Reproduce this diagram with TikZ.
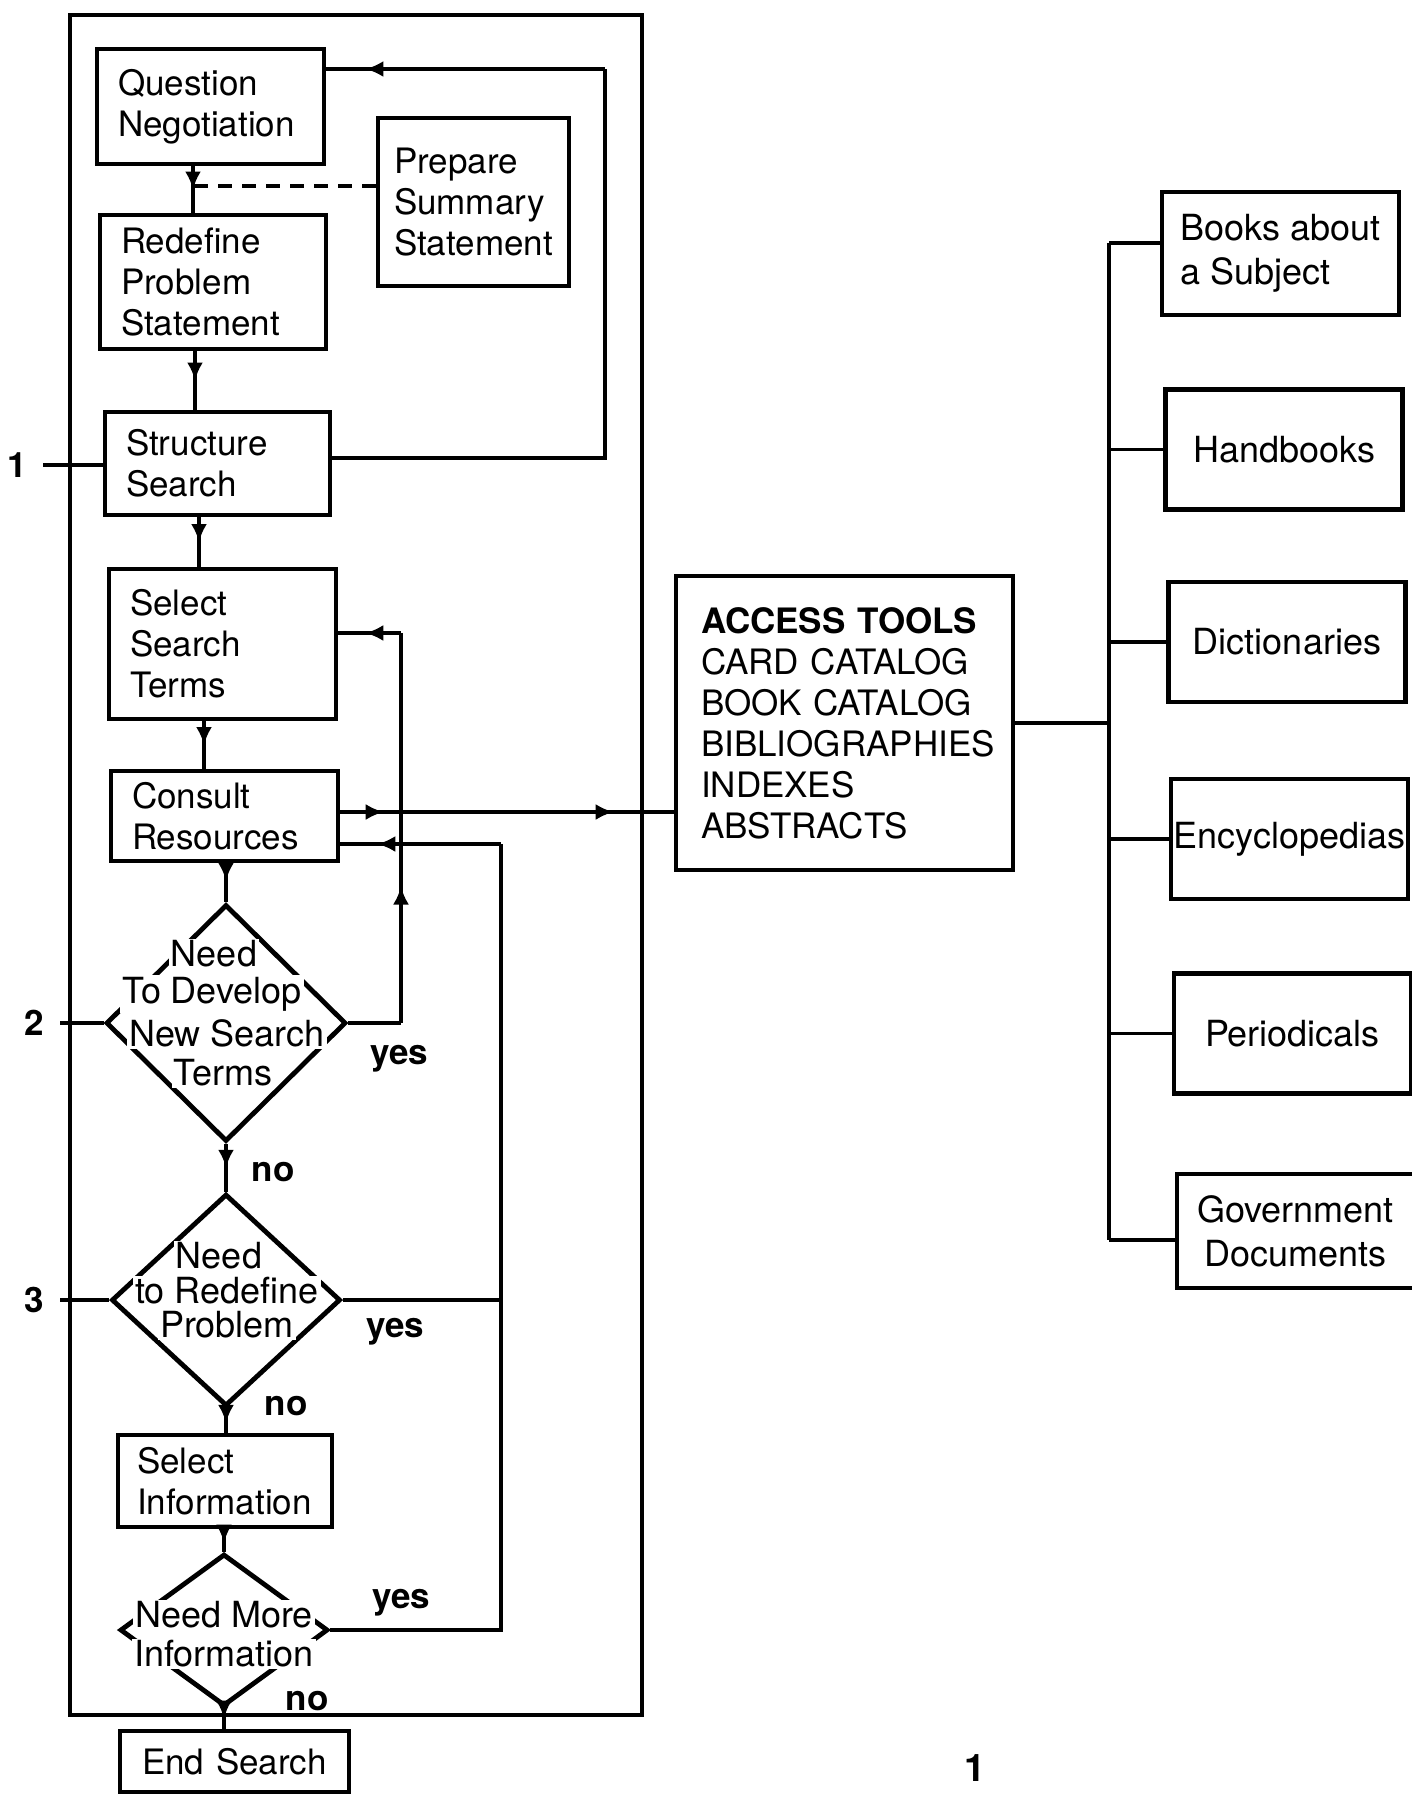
\documentclass[tikz,border=0pt]{standalone}
\usepackage{fontspec}
\setmainfont{TeX Gyre Heros}
\usetikzlibrary{shapes.geometric, arrows.meta, decorations.markings, calc}
\newcommand\myfs{\fontsize{17.5}{20.5}\selectfont}
\newcommand\mydfs{\fontsize{18}{20.5}\selectfont}
\newcommand\myrfs{\fontsize{18}{22}\selectfont}
\begin{document}
\begin{tikzpicture}[x=0.5pt,y=-0.5pt,
  lbox/.style={draw, line width=2.4pt, align=left, inner xsep=10.5pt, inner ysep=0pt, font=\myfs},
  rbox/.style={draw, line width=2.4pt, align=center, inner sep=0pt, minimum width=118.5pt, minimum height=60pt, font=\myrfs},
  dec/.style={draw, diamond, line width=2.4pt, inner sep=0pt},
  dtext/.style={fill=white, inner sep=1pt, font=\mydfs},
  lab/.style={font=\bfseries\myfs, inner sep=1pt},
  conn/.style={line width=1.6pt},
  marr/.style={postaction={decorate}, decoration={markings, mark=at position #1 with {\arrow{Latex[length=9pt,width=8pt]}}}},
  marrtwo/.style 2 args={postaction={decorate}, decoration={markings, mark=at position #1 with {\arrow{Latex[length=9pt,width=8pt]}}, mark=at position #2 with {\arrow{Latex[length=9pt,width=8pt]}}}}
]
\useasboundingbox (0,0) rectangle (1412,1795);
\clip (0,0) rectangle (1412,1795);
\fill[white] (0,0) rectangle (1412,1795);

% outer frame
\node[draw, line width=2.2pt, minimum width=286pt, minimum height=850pt, inner sep=0pt] (frame) at (356,865) {};

% left column boxes
\node[lbox, text width=92.5pt, minimum height=57.5pt] (qn) at (210.5,106.5) {Question\\Negotiation};
\node[lbox, text width=79.5pt, inner xsep=8pt, minimum height=84pt] (ps) at (473.5,202) {Prepare\\Summary\\Statement};
\node[lbox, text width=92pt, minimum height=67pt] (rp) at (213,282) {Redefine\\Problem\\Statement};
\node[lbox, text width=91.5pt, minimum height=51.5pt] (ss) at (217.5,463.5) {Structure\\Search};
\node[lbox, text width=92.5pt, minimum height=75pt] (sst) at (222.5,644) {Select\\Search\\Terms};
\node[lbox, text width=92.5pt, minimum height=45pt] (cr) at (224.5,816) {Consult\\Resources};
\node[dec, minimum width=120pt, minimum height=118.5pt] (d1) at (226,1023) {};
\node[dec, minimum width=114.5pt, minimum height=106pt] (d2) at (226,1300) {};
\node[lbox, text width=88pt, inner xsep=9.5pt, minimum height=46pt] (si) at (225,1481) {Select\\Information};
\node[dec, minimum width=104pt, minimum height=76pt] (d3) at (224,1630) {};
\node[lbox, align=center, text width=93.5pt, minimum height=30.5pt] (es) at (234.5,1761.5) {End Search};

% decision texts
\node[dtext] (d1a) at (214,954) {Need};
\node[dtext] (d1b) at (212,994) {To Develop};
\node[dtext] (d1c) at (227,1033) {New Search};
\node[dtext] (d1d) at (223,1073) {Terms};
\node[dtext] (d2a) at (219,1256) {Need};
\node[dtext] (d2b) at (227,1291) {to Redefine};
\node[dtext] (d2c) at (227,1325) {Problem};
\node[dtext] (d3a) at (224,1615) {Need More};
\node[dtext] (d3b) at (224,1654) {Information};

% labels
\node[lab] (yes1) at (399,1059) {yes};
\node[lab] (yes2) at (395,1332) {yes};
\node[lab] (yes3) at (401,1603) {yes};
\node[lab] (no1) at (273,1172) {no};
\node[lab] (no2) at (286,1406) {no};
\node[lab] (no3) at (307,1701) {no};
\node[lab, inner xsep=8pt] (n1) at (17,465) {1};
\node[lab, inner xsep=8pt] (n2) at (34,1023) {2};
\node[lab, inner xsep=8pt] (n3) at (34,1300) {3};

% access tools
\node[draw, line width=2.4pt, align=left, text width=143.5pt, inner xsep=12.5pt, minimum height=147pt, font=\myfs] (acc) at (844.5,723)
  {\textbf{ACCESS TOOLS}\\CARD CATALOG\\BOOK CATALOG\\BIBLIOGRAPHIES\\INDEXES\\ABSTRACTS};

% right boxes
\node[rbox, align=left, minimum height=61.5pt] (books) at (1280.5,253.5) {Books about\\a Subject};
\node[rbox] (hand) at (1284,449.5) {Handbooks};
\node[rbox] (dict) at (1287,642) {Dictionaries};
\node[rbox] (ency) at (1289.5,839) {Encyclopedias};
\node[rbox] (peri) at (1292.5,1033.5) {Periodicals};
\node[rbox, minimum height=57pt] (gov) at (1295.5,1231) {Government\\Documents};

% page number
\node[anchor=south, inner sep=0pt, font=\bfseries\fontsize{19}{19}\selectfont] (pg) at (975,1782) {1};

% routing coordinates
\coordinate (yd) at (193,186);
\coordinate (xb) at (195,0);
\coordinate (xc) at (199,0);
\coordinate (xe) at (204,0);
\coordinate (ys) at (605,458);
\coordinate (yt) at (605,69);
\coordinate (ya) at (401,633);
\coordinate (yb) at (501,844);
\coordinate (yc) at (0,812);
\coordinate (bt) at (1109,243);
\coordinate (bb) at (1109,1240);

% main flow
\draw[conn, marr=0.5] (qn.south -| yd) -- (rp.north -| yd);
\draw[conn, dash pattern=on 7pt off 5pt] (ps.west |- yd) -- (yd);
\draw[conn, marr=0.5] (rp.south -| xb) -- (ss.north -| xb);
\draw[conn, marr=0.5] (ss.south -| xc) -- (sst.north -| xc);
\draw[conn, marr=0.5] (sst.south -| xe) -- (cr.north -| xe);
\draw[conn, marr=0.45] (d1.north |- cr.south) -- (d1.north);
\draw[conn, marr=0.5] (d1.south) -- (d2.north);
\draw[conn, marr=0.6] (d2.south) -- (d2.south |- si.north);
\draw[conn, marr=0.6] (d3.north |- si.south) -- (d3.north);
\draw[conn, marr=0.5] (d3.south) -- (d3.south |- es.north);

% entry points
\draw[conn] (n1.east) -- (ss.west |- n1.east);
\draw[conn] (n2.east) -- (d1.west);
\draw[conn] (n3.east) -- (d2.west);

% loop from structure search to question negotiation
\draw[conn] (ss.east |- ys) -- (ys) -- (yt);
\draw[conn, marr=0.86] (yt) -- (qn.east |- yt);

% yes loop 1
\draw[conn] (d1.east) -- (d1.east -| ya);
\draw[conn, marr=0.35] (d1.east -| ya) -- (ya);
\draw[conn, marr=0.57] (ya) -- (sst.east |- ya);

% yes loops 2 and 3
\draw[conn] (d2.east) -- (d2.east -| yb);
\draw[conn] (d3.east) -- (d3.east -| yb) -- (yb);
\draw[conn, marr=0.77] (yb) -- (cr.east |- yb);

% to access tools
\draw[conn, marrtwo={0.13}{0.82}] (cr.east |- yc) -- (acc.west |- yc);

% bus to reference types
\draw[conn] (acc.east) -- (acc.east -| bt);
\draw[line width=2.4pt] (bt) -- (bb);
\draw[conn] (books.west |- bt) -- (bt);
\draw[conn] (gov.west |- bb) -- (bb);
\draw[conn] (hand.west) -- (hand.west -| bt);
\draw[conn] (dict.west) -- (dict.west -| bt);
\draw[conn] (ency.west) -- (ency.west -| bt);
\draw[conn] (peri.west) -- (peri.west -| bt);
\end{tikzpicture}
\end{document}
